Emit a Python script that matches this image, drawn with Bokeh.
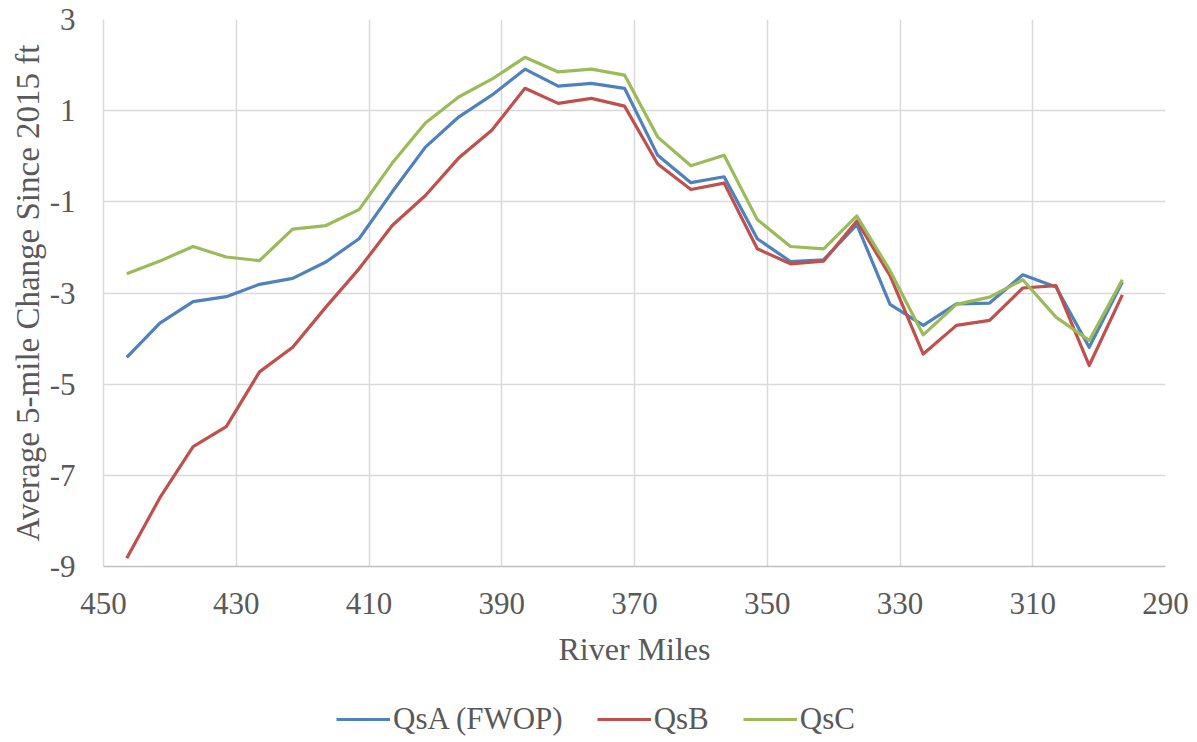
from bokeh.plotting import figure
from bokeh.layouts import column
from bokeh.models import Range1d, FixedTicker, Legend, LegendItem, ColumnDataSource, CustomJSTickFormatter
from bokeh.embed import file_html
from bokeh.resources import INLINE

# River miles (x) for each averaged 5-mile reach
river_miles = [446.5, 441.5, 436.5, 431.5, 426.5, 421.5, 416.5, 411.5, 406.5, 401.5,
               396.5, 391.5, 386.5, 381.5, 376.5, 371.5, 366.5, 361.5, 356.5, 351.5,
               346.5, 341.5, 336.5, 331.5, 326.5, 321.5, 316.5, 311.5, 306.5, 301.5, 296.5]

qsa_fwop = [-4.41, -3.66, -3.19, -3.08, -2.81, -2.68, -2.32, -1.81, -0.78, 0.20,
            0.86, 1.34, 1.91, 1.54, 1.60, 1.49, 0.02, -0.58, -0.45, -1.81,
            -2.31, -2.27, -1.50, -3.25, -3.71, -3.24, -3.22, -2.60, -2.87, -4.19, -2.76]

qsb = [-8.82, -7.49, -6.37, -5.93, -4.73, -4.19, -3.31, -2.47, -1.52, -0.86,
       -0.04, 0.57, 1.49, 1.16, 1.27, 1.10, -0.17, -0.73, -0.59, -2.03,
       -2.36, -2.30, -1.42, -2.62, -4.34, -3.71, -3.60, -2.89, -2.84, -4.59, -3.04]

qsc = [-2.58, -2.30, -1.98, -2.21, -2.29, -1.60, -1.52, -1.17, -0.15, 0.73,
       1.30, 1.69, 2.17, 1.85, 1.91, 1.78, 0.42, -0.21, 0.02, -1.39,
       -1.98, -2.03, -1.31, -2.51, -3.92, -3.25, -3.09, -2.71, -3.53, -4.04, -2.71]

series_names = ["QsA (FWOP)", "QsB", "QsC"]
series_colors = ["#4F81BD", "#C0504D", "#9BBB59"]

x_ticks = [450, 430, 410, 390, 370, 350, 330, 310, 290]
y_ticks = [-9, -7, -5, -3, -1, 1, 3]

FONT = "Liberation Serif"
TXT = "#595959"

p = figure(width=1197, height=700, output_backend="svg", toolbar_location=None,
           x_range=Range1d(450, 290), y_range=Range1d(-9, 3),
           min_border_left=103, min_border_right=32, min_border_top=19, min_border_bottom=134)
p.outline_line_color = None
p.background_fill_color = "white"
p.border_fill_color = "white"

src = ColumnDataSource(dict(x=river_miles, a=qsa_fwop, b=qsb, c=qsc))
for col, color in zip(["a", "b", "c"], series_colors):
    p.line("x", col, source=src, line_color=color, line_width=3.2, line_join="round")

p.xaxis.ticker = FixedTicker(ticks=x_ticks)
p.yaxis.ticker = FixedTicker(ticks=y_ticks)
fmt_code = "return String(tick);"
p.xaxis.formatter = CustomJSTickFormatter(code=fmt_code)
p.yaxis.formatter = CustomJSTickFormatter(code=fmt_code)
for ax in (p.xaxis, p.yaxis):
    ax.major_tick_line_color = None
    ax.minor_tick_line_color = None
    ax.major_tick_out = 0
    ax.major_tick_in = 0
    ax.major_label_text_font = FONT
    ax.major_label_text_font_size = "31px"
    ax.major_label_text_color = TXT
    ax.axis_label_text_font = FONT
    ax.axis_label_text_font_style = "normal"
    ax.axis_label_text_color = TXT
p.xaxis.axis_line_color = "#BFBFBF"
p.xaxis.axis_line_width = 1.5
p.yaxis.axis_line_color = "#D9D9D9"
p.yaxis.axis_line_width = 1.5
p.xaxis.major_label_standoff = 26
p.yaxis.major_label_standoff = 28
p.xaxis.axis_label = "River Miles"
p.yaxis.axis_label = "Average 5-mile Change Since 2015 ft"
p.xaxis.axis_label_text_font_size = "32px"
p.yaxis.axis_label_text_font_size = "33px"
p.xaxis.axis_label_standoff = 14
p.yaxis.axis_label_standoff = 1

p.xgrid.grid_line_color = "#D9D9D9"
p.ygrid.grid_line_color = "#D9D9D9"
p.xgrid.grid_line_width = 1.5
p.ygrid.grid_line_width = 1.5

# Legend strip below the chart (its frame is aligned with the chart frame)
lg = figure(width=1197, height=42, output_backend="svg", toolbar_location=None,
            x_range=Range1d(0, 1), y_range=Range1d(0, 1),
            min_border_left=0, min_border_right=0, min_border_top=0, min_border_bottom=0)
lg.axis.visible = False
lg.grid.visible = False
lg.outline_line_color = None
lg.background_fill_color = "white"
lg.border_fill_color = "white"
leg_renderers = []
for col, color in zip(["a", "b", "c"], series_colors):
    r = lg.line("x", col, source=src, line_color=color, line_width=3.2, visible=False)
    leg_renderers.append(r)

items = [LegendItem(label=n, renderers=[r]) for n, r in zip(series_names, leg_renderers)]
legend = Legend(items=items, orientation="horizontal", location=(233, 5),
                label_text_font=FONT, label_text_font_size="31px", label_text_color=TXT,
                glyph_width=54, glyph_height=30, label_height=30, label_standoff=3,
                spacing=34, padding=0, margin=0,
                border_line_alpha=0, background_fill_alpha=0)
lg.add_layout(legend, "center")

layout = column(p, lg, spacing=0)
open("out.html", "w").write(file_html(layout, INLINE))
